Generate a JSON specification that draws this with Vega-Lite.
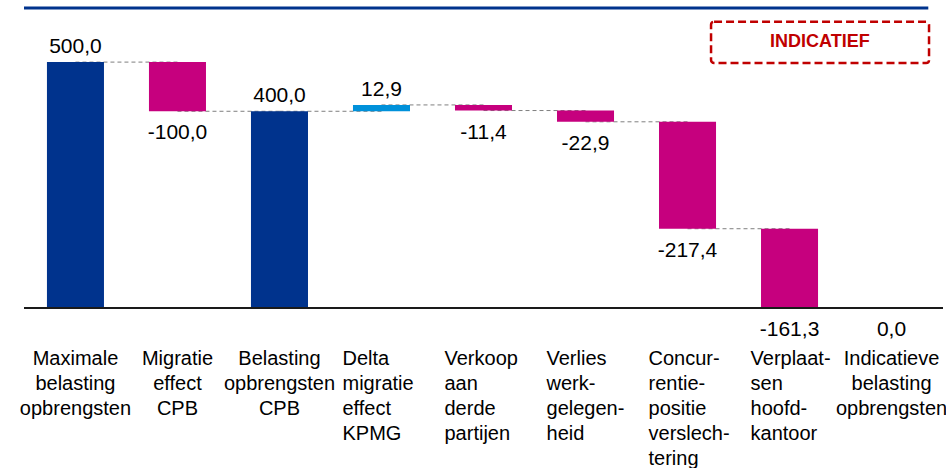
{
  "$schema": "https://vega.github.io/schema/vega-lite/v6.json",
  "width": 919,
  "height": 300,
  "autosize": {"type": "none"},
  "padding": {"left": 24, "top": 8, "right": 3, "bottom": 160},
  "background": "white",
  "config": {
    "view": {"stroke": null},
    "font": "Liberation Sans"
  },
  "datasets": {
    "bars": [
      {"cat": "Maximale|belasting|opbrengsten", "start": 0, "end": 500, "amount": 500, "type": "total"},
      {"cat": "Migratie|effect|CPB", "start": 500, "end": 400, "amount": -100, "type": "decrease"},
      {"cat": "Belasting|opbrengsten|CPB", "start": 0, "end": 400, "amount": 400, "type": "total"},
      {"cat": "Delta|migratie|effect|KPMG", "start": 400, "end": 412.9, "amount": 12.9, "type": "increase"},
      {"cat": "Verkoop|aan|derde|partijen", "start": 412.9, "end": 401.5, "amount": -11.4, "type": "decrease"},
      {"cat": "Verlies|werk-|gelegen-|heid", "start": 401.5, "end": 378.6, "amount": -22.9, "type": "decrease"},
      {"cat": "Concur-|rentie-|positie|verslech-|tering", "start": 378.6, "end": 161.2, "amount": -217.4, "type": "decrease"},
      {"cat": "Verplaat-|sen|hoofd-|kantoor", "start": 161.2, "end": -0.1, "amount": -161.3, "type": "decrease"},
      {"cat": "Indicatieve|belasting|opbrengsten", "start": 0, "end": 0, "amount": 0, "type": "total"}
    ],
    "links": [
      {"from": "Maximale|belasting|opbrengsten", "to": "Migratie|effect|CPB", "level": 500},
      {"from": "Migratie|effect|CPB", "to": "Belasting|opbrengsten|CPB", "level": 400},
      {"from": "Belasting|opbrengsten|CPB", "to": "Delta|migratie|effect|KPMG", "level": 400},
      {"from": "Delta|migratie|effect|KPMG", "to": "Verkoop|aan|derde|partijen", "level": 412.9},
      {"from": "Verkoop|aan|derde|partijen", "to": "Verlies|werk-|gelegen-|heid", "level": 401.5},
      {"from": "Verlies|werk-|gelegen-|heid", "to": "Concur-|rentie-|positie|verslech-|tering", "level": 378.6},
      {"from": "Concur-|rentie-|positie|verslech-|tering", "to": "Verplaat-|sen|hoofd-|kantoor", "level": 161.2}
    ],
    "box": [
      {"x0": 0.7476, "x1": 0.9848, "y0": 498, "y1": 582, "label": "INDICATIEF", "xm": 0.866, "ym": 540}
    ],
    "topline": [
      {"x0": 0, "x1": 0.984, "y": 610}
    ]
  },
  "layer": [
    {
      "layer": [
        {
          "data": {"name": "links"},
          "mark": {"type": "rule", "color": "#7f7f7f", "strokeWidth": 1, "strokeDash": [4, 3]},
          "encoding": {
            "x": {"field": "from", "type": "nominal", "sort": null, "axis": null},
            "x2": {"field": "to"},
            "y": {"field": "level", "type": "quantitative", "axis": null}
          }
        },
        {
          "data": {"name": "bars"},
          "mark": {"type": "bar"},
          "encoding": {
            "x": {
              "field": "cat", "type": "nominal", "sort": null, "axis": null,
              "scale": {"paddingInner": 0.441, "paddingOuter": 0.225}
            },
            "y": {"field": "start", "type": "quantitative", "scale": {"domain": [0, 610], "nice": false, "zero": true}, "axis": null},
            "y2": {"field": "end"},
            "color": {
              "field": "type", "type": "nominal", "legend": null,
              "scale": {"domain": ["total", "decrease", "increase"], "range": ["#00338D", "#C6007E", "#0091DA"]}
            }
          }
        },
        {
          "data": {"name": "bars"},
          "mark": {"type": "rule", "color": "#1a1a1a", "strokeWidth": 2},
          "encoding": {"y": {"datum": 0, "type": "quantitative", "axis": null}}
        },
        {
          "data": {"name": "bars"},
          "transform": [
            {"filter": "datum.amount > 0"},
            {"calculate": "replace(replace(format(datum.amount, '.1f'), '.', ','), '\u2212', '-')", "as": "txt"}
          ],
          "mark": {"type": "text", "fontSize": 21, "font": "Liberation Sans", "color": "#000000", "baseline": "alphabetic", "dy": -9},
          "encoding": {
            "x": {"field": "cat", "type": "nominal", "sort": null, "axis": null},
            "y": {"field": "end", "type": "quantitative", "axis": null},
            "text": {"field": "txt", "type": "nominal"}
          }
        },
        {
          "data": {"name": "bars"},
          "transform": [
            {"filter": "datum.amount <= 0"},
            {"calculate": "replace(replace(format(datum.amount, '.1f'), '.', ','), '\u2212', '-')", "as": "txt"}
          ],
          "mark": {"type": "text", "fontSize": 21, "font": "Liberation Sans", "color": "#000000", "baseline": "alphabetic", "dy": 28},
          "encoding": {
            "x": {"field": "cat", "type": "nominal", "sort": null, "axis": null},
            "y": {"field": "end", "type": "quantitative", "axis": null},
            "text": {"field": "txt", "type": "nominal"}
          }
        },
        {
          "data": {"name": "bars"},
          "transform": [
            {"filter": "!test(regexp('^(Delta|Verkoop|Verlies|Concur|Verplaat)'), datum.cat)"},
            {"calculate": "split(datum.cat, '|')", "as": "lines"}
          ],
          "mark": {"type": "text", "fontSize": 20, "font": "Liberation Sans", "color": "#000000", "baseline": "alphabetic", "align": "center", "lineHeight": 25},
          "encoding": {
            "x": {"field": "cat", "type": "nominal", "sort": null, "axis": null},
            "y": {"datum": -116, "type": "quantitative", "axis": null},
            "text": {"field": "lines", "type": "nominal"}
          }
        },
        {
          "data": {"name": "bars"},
          "transform": [
            {"filter": "test(regexp('^(Delta|Verkoop|Verlies|Concur|Verplaat)'), datum.cat)"},
            {"calculate": "split(datum.cat, '|')", "as": "lines"}
          ],
          "mark": {"type": "text", "fontSize": 20, "font": "Liberation Sans", "color": "#000000", "baseline": "alphabetic", "align": "left", "dx": -39, "lineHeight": 25},
          "encoding": {
            "x": {"field": "cat", "type": "nominal", "sort": null, "axis": null},
            "y": {"datum": -116, "type": "quantitative", "axis": null},
            "text": {"field": "lines", "type": "nominal"}
          }
        }
      ]
    },
    {
      "layer": [
        {
          "data": {"name": "topline"},
          "mark": {"type": "rule", "color": "#00338D", "strokeWidth": 3},
          "encoding": {
            "x": {"field": "x0", "type": "quantitative", "scale": {"domain": [0, 1], "nice": false, "zero": false}, "axis": null},
            "x2": {"field": "x1"},
            "y": {"field": "y", "type": "quantitative", "axis": null}
          }
        },
        {
          "data": {"name": "box"},
          "mark": {"type": "rect", "fillOpacity": 0, "stroke": "#C00000", "strokeWidth": 2.5, "strokeDash": [8, 4], "cornerRadius": 3},
          "encoding": {
            "x": {"field": "x0", "type": "quantitative", "scale": {"domain": [0, 1], "nice": false, "zero": false}, "axis": null},
            "x2": {"field": "x1"},
            "y": {"field": "y0", "type": "quantitative", "axis": null},
            "y2": {"field": "y1"}
          }
        },
        {
          "data": {"name": "box"},
          "mark": {"type": "text", "fontSize": 18, "fontWeight": "bold", "font": "Liberation Sans", "color": "#C00000", "baseline": "middle", "align": "center"},
          "encoding": {
            "x": {"field": "xm", "type": "quantitative", "scale": {"domain": [0, 1], "nice": false, "zero": false}, "axis": null},
            "y": {"field": "ym", "type": "quantitative", "axis": null},
            "text": {"field": "label", "type": "nominal"}
          }
        }
      ]
    }
  ],
  "resolve": {"scale": {"x": "independent"}}
}
